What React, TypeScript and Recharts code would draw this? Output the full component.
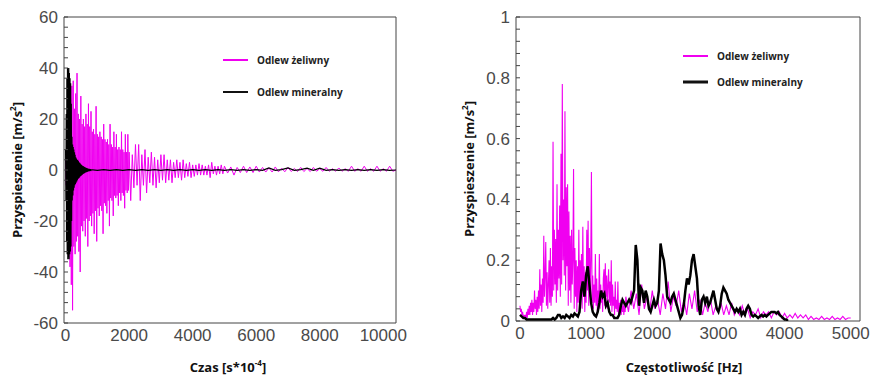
import React from 'react';
import { LineChart, Line, XAxis, YAxis, CartesianGrid } from 'recharts';

// ---------- Left chart: time domain ----------
// cast iron casting, t = 0..1980 every 20
const castIronEarly = [
  4, -6, 12, -10, 22, -30, 30, -38, 28, -45,
  33, -55, 35, -30, 24, -33, 30, -28, 38, -26,
  22, -32, 20, -40, 29, -22, 18, -24, 20, -20,
  17, -26, 22, -19, 18, -30, 26, -20, 17, -18,
  23, -22, 15, -17, 16, -25, 14, -16, 25, -28,
  14, -15, 13, -18, 15, -14, 13, -16, 12, -25,
  18, -13, 12, -14, 11, -17, 12, -12, 10, -22,
  18, -11, 10, -12, 9, -18, 15, -10, 9, -11,
  14, -10, 8, -14, 9, -9, 8, -12, 15, -9,
  8, -10, 7, -15, 14, -8, 7, -9, 14, -8,
];
// t = 2000..4950 every 50
const castIronMid = [
  7, -12, 6, -7, 10, -6, 10, -12, 6, -6,
  8, -9, 5, -5, 7, -6, 5, -7, 4, -5,
  6, -4, 6, -5, 4, -4, 4, -5, 3, -3,
  4, -3, 3, -4, 4, -3, 2.5, -2.5, 3, -3,
  2, -2.5, 2, -2, 2.5, -2, 2, -2, 1.5, -2,
  2, -3, 3, -1.5, 1.5, -2, 1.5, -1.5, 2, -1.5,
];
// t = 5000..10400 every 100
const castIronLate = [
  1.5, -1.2, 1.2, -2, 1, -1, 1.5, -1, 1.2, -1,
  1.5, -0.8, 1, -0.8, 0.8, -0.8, 1.2, -0.7, 0.7, -0.7,
  1, -0.6, 0.6, -0.6, 1, -0.6, 0.6, -0.6, 1, -0.5,
  0.5, -0.5, 1, -0.5, 0.5, -0.5, 0.8, -0.5, 0.5, -0.5,
  1.5, -0.5, 0.5, -0.5, 1.5, -0.5, 0.5, -0.5, 1.5, -0.5,
  0.5, -0.5, 1.5, -0.5, 0,
];
// mineral casting, t = 0..790 every 10
const mineralEarly = [
  8, -12, 22, -28, 36, -33, 40, -35, 39, -34,
  40, -35, 38, -33, 36, -32, 34, -30, 26, -20,
  13, -12, 10, -10, 9, -8, 8, -7, 7, -6,
  6, -5.5, 5, -5, 4.5, -4.5, 4, -4, 4, -3.5,
  3.5, -3.2, 3, -3, 2.8, -2.6, 2.5, -2.4, 2.2, -2.2,
  2, -2, 1.8, -1.8, 1.6, -1.6, 1.5, -1.4, 1.3, -1.3,
  1.2, -1.1, 1, -1, 0.9, -0.9, 0.8, -0.8, 0.7, -0.7,
  0.6, -0.6, 0.5, -0.5, 0.5, -0.5, 0.4, -0.4, 0.4, -0.4,
];
// t = 800..10400 every 200
const mineralLate = [
  0.15, -0.15, 0.15, -0.15, 0.15, -0.15, 0.15, -0.15, 0.15, -0.15,
  0.15, -0.15, 0.15, -0.15, 0.15, -0.15, 0.15, -0.15, 0.15, -0.15,
  0.15, -0.15, 0.15, -0.15, 0.15, -0.15, 0.15, -0.15, 0.8, -0.15,
  0.15, 0.8, -0.15, 0.15, 0.7, -0.15, 0.7, -0.15, 0.15, -0.15,
  0.15, -0.15, 0.15, -0.15, 0.15, -0.15, 0.15, -0.15, 0,
];

const timeDomain = [-50, 10400];
const accelDomain = [-60, 60];
const timeTicks = [0, 2000, 4000, 6000, 8000, 10000];
const accelTicks = [-60, -40, -20, 0, 20, 40, 60];
const accelMinorTicks = [
  -60, -56, -52, -48, -44, -40, -36, -32, -28, -24, -20, -16, -12, -8, -4,
  0, 4, 8, 12, 16, 20, 24, 28, 32, 36, 40, 44, 48, 52, 56, 60,
];

// ---------- Right chart: frequency domain ----------
// cast iron, f = 0..1590 every 10
const castIronSpecLow = [
  0.05, 0.03, 0.04, 0.02, 0.03, 0.01, 0.02, 0.01, 0.02, 0.01,
  0.03, 0.01, 0.04, 0.02, 0.05, 0.02, 0.06, 0.03, 0.07, 0.02,
  0.06, 0.03, 0.1, 0.04, 0.07, 0.02, 0.08, 0.03, 0.1, 0.04,
  0.17, 0.05, 0.12, 0.03, 0.14, 0.06, 0.28, 0.08, 0.15, 0.26,
  0.05, 0.16, 0.04, 0.12, 0.2, 0.06, 0.24, 0.05, 0.18, 0.08,
  0.59, 0.1, 0.3, 0.12, 0.27, 0.06, 0.45, 0.1, 0.3, 0.14,
  0.38, 0.08, 0.55, 0.12, 0.78, 0.2, 0.4, 0.15, 0.69, 0.1,
  0.44, 0.18, 0.45, 0.05, 0.36, 0.1, 0.28, 0.06, 0.3, 0.12,
  0.2, 0.5, 0.04, 0.24, 0.08, 0.2, 0.03, 0.18, 0.06, 0.3,
  0.05, 0.2, 0.1, 0.22, 0.04, 0.31, 0.08, 0.18, 0.03, 0.16,
  0.06, 0.3, 0.1, 0.33, 0.05, 0.24, 0.08, 0.2, 0.49, 0.06,
  0.15, 0.04, 0.12, 0.06, 0.22, 0.05, 0.14, 0.03, 0.1, 0.05,
  0.22, 0.04, 0.12, 0.06, 0.1, 0.03, 0.14, 0.17, 0.05, 0.19,
  0.08, 0.15, 0.04, 0.12, 0.17, 0.06, 0.13, 0.05, 0.2, 0.03,
  0.12, 0.05, 0.08, 0.02, 0.13, 0.04, 0.07, 0.03, 0.13, 0.02,
  0.06, 0.03, 0.07, 0.02, 0.05, 0.03, 0.06, 0.02, 0.05, 0.03,
];
// cast iron, f = 1600..5000 every 40
const castIronSpecHigh = [
  0.08, 0.03, 0.1, 0.04, 0.09, 0.02, 0.12, 0.04, 0.08, 0.03,
  0.1, 0.04, 0.07, 0.02, 0.09, 0.04, 0.13, 0.03, 0.08, 0.05,
  0.1, 0.03, 0.07, 0.02, 0.09, 0.04, 0.1, 0.03, 0.07, 0.02,
  0.06, 0.03, 0.07, 0.02, 0.05, 0.03, 0.06, 0.02, 0.05, 0.02,
  0.06, 0.02, 0.04, 0.02, 0.05, 0.02, 0.04, 0.01, 0.03, 0.02,
  0.04, 0.01, 0.03, 0.02, 0.03, 0.01, 0.03, 0.02, 0.03, 0.01,
  0.025, 0.01, 0.02, 0.01, 0.025, 0.01, 0.02, 0.01, 0.02, 0.005,
  0.015, 0.005, 0.01, 0.005, 0.015, 0.005, 0.01, 0.005, 0.015, 0.005,
  0.01, 0.005, 0.015, 0.005, 0.01, 0.01,
];
// mineral, f = 0..4050 every 25
const mineralSpec = [
  0.02, 0.015, 0.01, 0.01, 0.005, 0.005, 0.005, 0.005, 0.005, 0.005,
  0.005, 0.005, 0.005, 0.005, 0.005, 0.005, 0.005, 0.005, 0.005, 0.005,
  0.01, 0.005, 0.01, 0.02, 0.02, 0.01, 0.015, 0.01, 0.02, 0.015,
  0.01, 0.02, 0.015, 0.025, 0.02, 0.015, 0.03, 0.1, 0.13, 0.08,
  0.15, 0.18, 0.12, 0.06, 0.03, 0.02, 0.015, 0.03, 0.06, 0.1,
  0.08, 0.09, 0.05, 0.06, 0.03, 0.02, 0.02, 0.01, 0.01, 0.01,
  0.02, 0.05, 0.07, 0.06, 0.05, 0.06, 0.07, 0.06, 0.08, 0.1,
  0.25, 0.2, 0.05, 0.11, 0.1, 0.06, 0.1, 0.08, 0.04, 0.03,
  0.05, 0.07, 0.05, 0.06, 0.1, 0.255, 0.22, 0.2, 0.15, 0.08,
  0.07, 0.06, 0.08, 0.09, 0.07, 0.05, 0.03, 0.01, 0.02, 0.05,
  0.1, 0.14, 0.12, 0.15, 0.2, 0.22, 0.18, 0.14, 0.05, 0.02,
  0.07, 0.08, 0.06, 0.08, 0.05, 0.06, 0.08, 0.1, 0.07, 0.04,
  0.03, 0.05, 0.09, 0.11, 0.1, 0.09, 0.07, 0.06, 0.05, 0.04,
  0.03, 0.04, 0.03, 0.04, 0.02, 0.03, 0.02, 0.04, 0.05, 0.04,
  0.02, 0.015, 0.02, 0.015, 0.01, 0.015, 0.02, 0.015, 0.02, 0.015,
  0.02, 0.025, 0.03, 0.03, 0.03, 0.025, 0.03, 0.02, 0.015, 0.01,
  0.005, 0.005, 0,
];

const freqDomain = [-60, 5140];
const ampDomain = [0, 1];
const freqTicks = [0, 1000, 2000, 3000, 4000, 5000];
const ampTicks = [0, 0.2, 0.4, 0.6, 0.8, 1];
const ampMinorTicks = [
  0, 0.04, 0.08, 0.12, 0.16, 0.2, 0.24, 0.28, 0.32, 0.36, 0.4, 0.44, 0.48,
  0.52, 0.56, 0.6, 0.64, 0.68, 0.72, 0.76, 0.8, 0.84, 0.88, 0.92, 0.96, 1,
];

const seriesNames = ['Odlew żeliwny', 'Odlew mineralny'];

const toPoints = (values: number[], start: number, step: number) =>
  values.map((v, i) => ({ x: start + i * step, y: v }));

const timeCastIron = [
  ...toPoints(castIronEarly, 0, 20),
  ...toPoints(castIronMid, 2000, 50),
  ...toPoints(castIronLate, 5000, 100),
];
const timeMineral = [...toPoints(mineralEarly, 0, 10), ...toPoints(mineralLate, 800, 200)];
const freqCastIron = [...toPoints(castIronSpecLow, 0, 10), ...toPoints(castIronSpecHigh, 1600, 40)];
const freqMineral = toPoints(mineralSpec, 0, 25);

const PINK = '#f000f0';
const FRAME = '#444444';
const TICK_FONT = '"Liberation Sans", Arial, sans-serif';
const TITLE_FONT = '"Open Sans", "Liberation Sans", sans-serif';
const tickStyle = { fontSize: 17, fill: '#4a4a4a', fontFamily: TICK_FONT };
const CHART_H = 375;
const X_AXIS_H = 30;

const yTickFmt = (majors: number[]) => (v: number) =>
  majors.some((m) => Math.abs(m - v) < 1e-9) ? String(v) : '';

// frame lines of the plot box, taken from the chart's own offset
const frameRows = (p: any) => {
  const o = p.offset || {};
  const h = o.height != null ? o.height : p.height - o.top - o.bottom;
  return [o.top, o.top + h];
};
const frameCols = (p: any) => {
  const o = p.offset || {};
  const w = o.width != null ? o.width : p.width - o.left - o.right;
  return [o.left, o.left + w];
};

const yTitle = (text: React.ReactNode, dx: number) => (props: any) => {
  const vb = props.viewBox || {};
  const cx = (vb.x || 0) + dx;
  const cy = (vb.y || 0) + (vb.height || 0) / 2;
  return (
    <text x={cx} y={cy} transform={`rotate(-90, ${cx}, ${cy})`} textAnchor="middle" dominantBaseline="central"
      fontFamily={TITLE_FONT} fontWeight={700} fontSize={13} fill="#111">
      {text}
    </text>
  );
};

const xTitle = (text: React.ReactNode, dx: number, dy: number) => (props: any) => {
  const vb = props.viewBox || {};
  const cx = (vb.x || 0) + (vb.width || 0) / 2 + dx;
  const cy = (vb.y || 0) + dy;
  return (
    <text x={cx} y={cy} textAnchor="middle" dominantBaseline="central"
      fontFamily={TITLE_FONT} fontWeight={700} fontSize={13} fill="#111">
      {text}
    </text>
  );
};

const LegendBox = ({ left, top, gap, blackWidth }: { left: number; top: number; gap: number; blackWidth: number }) => (
  <div style={{ position: 'absolute', left, top, fontFamily: TITLE_FONT, fontWeight: 700, fontSize: 10, color: '#222', lineHeight: '12px' }}>
    {[PINK, '#111'].map((c, i) => (
      <div key={i} style={{ display: 'flex', alignItems: 'center', height: 12, marginTop: i === 0 ? 0 : gap - 12 }}>
        <svg width={25} height={6} style={{ marginRight: 9 }}>
          <line x1={0} y1={3} x2={25} y2={3} stroke={c} strokeWidth={i === 0 ? 2 : blackWidth} />
        </svg>
        <span style={{ whiteSpace: 'nowrap' }}>{seriesNames[i]}</span>
      </div>
    ))}
  </div>
);

const sup = (s: string) => (
  <>
    <tspan dy={-5} fontSize={8}>{s}</tspan>
    <tspan dy={5}>]</tspan>
  </>
);

const LEFT_W = 440;
const LEFT_AXIS_W = 64;
const LEFT_MARGIN = { top: 17, right: 44, bottom: 22, left: 0 };
const RIGHT_W = 439;
const RIGHT_AXIS_W = 76;
const RIGHT_MARGIN = { top: 17, right: 19, bottom: 24, left: 0 };

export default function App() {
  return (
    <div style={{ position: 'absolute', left: 0, top: 0, width: 879, height: 375, background: '#fff' }}>
      <div style={{ position: 'absolute', left: 0, top: 0, width: LEFT_W, height: CHART_H }}>
        <LineChart width={LEFT_W} height={CHART_H} margin={LEFT_MARGIN}>
          <CartesianGrid stroke={FRAME} horizontalCoordinatesGenerator={frameRows} verticalCoordinatesGenerator={frameCols} />
          <XAxis dataKey="x" type="number" domain={timeDomain} ticks={timeTicks} interval={0} tickLine={false}
            axisLine={false} tickMargin={0} height={X_AXIS_H} tick={tickStyle} allowDataOverflow
            label={xTitle(<>Czas [s*10{sup('-4')}</>, -2, 44)} />
          <YAxis type="number" domain={accelDomain} ticks={accelMinorTicks} interval={0}
            tickLine={{ stroke: FRAME }} axisLine={false} tickSize={-4} tickMargin={10} width={LEFT_AXIS_W}
            tick={tickStyle} tickFormatter={yTickFmt(accelTicks)}
            allowDataOverflow label={yTitle(<>Przyspieszenie [m/s{sup('2')}</>, 17)} />
          <Line data={timeCastIron} dataKey="y" type="linear" stroke={PINK} strokeWidth={1} dot={false} isAnimationActive={false} />
          <Line data={timeMineral} dataKey="y" type="linear" stroke="#000" strokeWidth={1.2} dot={false} isAnimationActive={false} />
        </LineChart>
        <LegendBox left={223} top={54} gap={32} blackWidth={2} />
      </div>
      <div style={{ position: 'absolute', left: 440, top: 0, width: RIGHT_W, height: CHART_H }}>
        <LineChart width={RIGHT_W} height={CHART_H} margin={RIGHT_MARGIN}>
          <CartesianGrid stroke={FRAME} horizontalCoordinatesGenerator={frameRows} verticalCoordinatesGenerator={frameCols} />
          <XAxis dataKey="x" type="number" domain={freqDomain} ticks={freqTicks} interval={0} tickLine={false}
            axisLine={false} tickMargin={0} height={X_AXIS_H} tick={tickStyle} allowDataOverflow
            label={xTitle('Częstotliwość [Hz]', -4, 46)} />
          <YAxis type="number" domain={ampDomain} ticks={ampMinorTicks} interval={0}
            tickLine={{ stroke: FRAME }} axisLine={false} tickSize={-4} tickMargin={10} width={RIGHT_AXIS_W}
            tick={tickStyle} tickFormatter={yTickFmt(ampTicks)}
            allowDataOverflow label={yTitle(<>Przyspieszenie [m/s{sup('2')}</>, 29)} />
          <Line data={freqCastIron} dataKey="y" type="linear" stroke={PINK} strokeWidth={1.1} dot={false} isAnimationActive={false} />
          <Line data={freqMineral} dataKey="y" type="linear" stroke="#000" strokeWidth={2.5} dot={false} isAnimationActive={false} />
        </LineChart>
        <LegendBox left={243} top={50} gap={26} blackWidth={3} />
      </div>
    </div>
  );
}
